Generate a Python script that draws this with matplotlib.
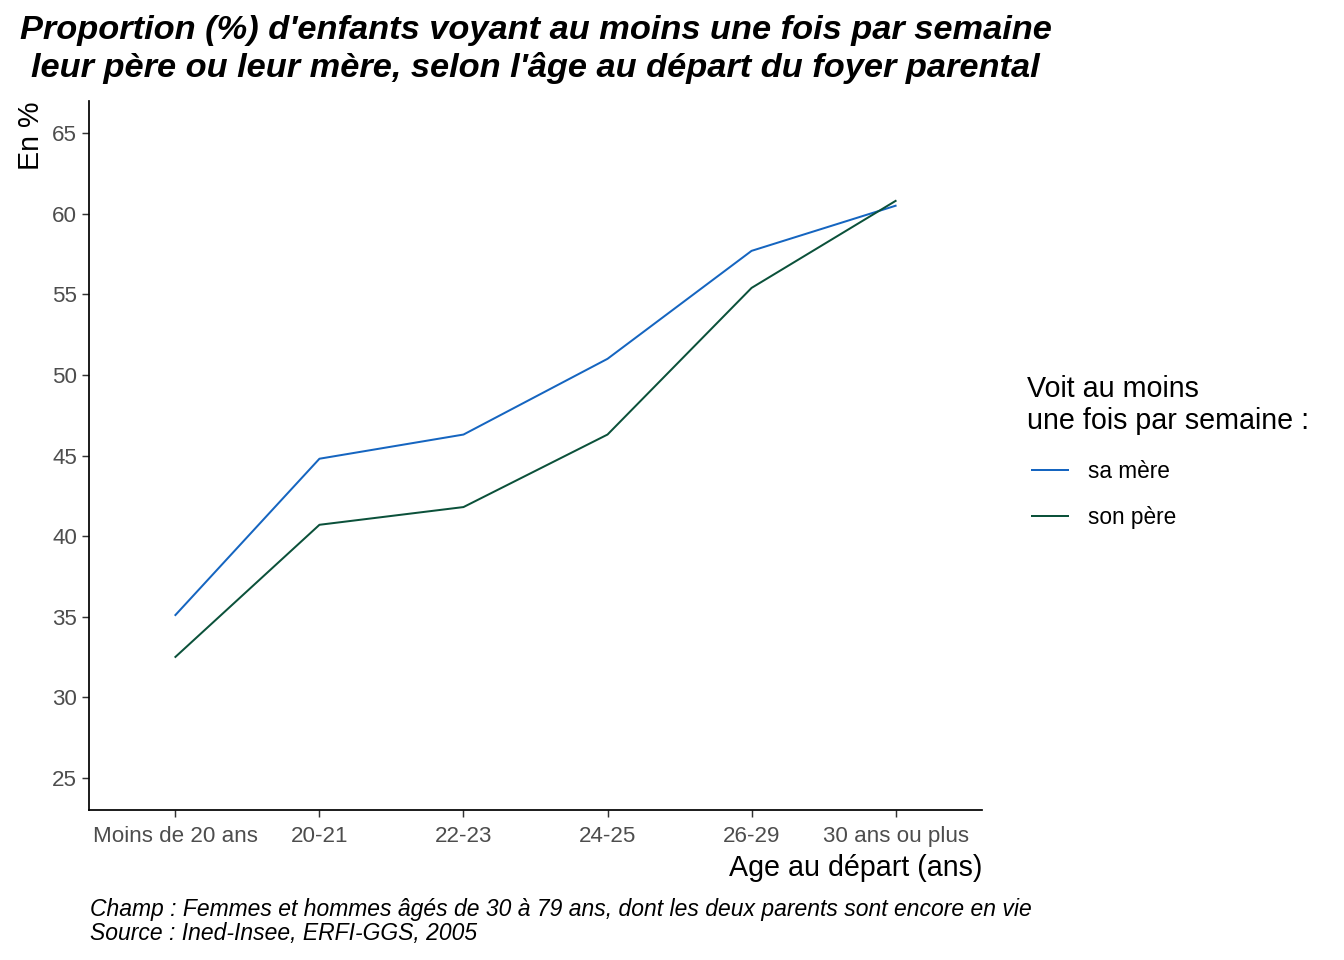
import matplotlib
matplotlib.use("Agg")
import matplotlib.pyplot as plt

plt.rcParams['font.family'] = ['Liberation Sans', 'DejaVu Sans']

categories = ["Moins de 20 ans", "20-21", "22-23", "24-25", "26-29", "30 ans ou plus"]
mere = [35.1, 44.8, 46.3, 51.0, 57.7, 60.5]
pere = [32.5, 40.7, 41.8, 46.3, 55.4, 60.8]
yticks = [25, 30, 35, 40, 45, 50, 55, 60, 65]

fig = plt.figure(figsize=(14, 10), dpi=96)
ax = fig.add_axes([89/1344, 1-810/960, (982-89)/1344, (810-101)/960])

x = list(range(len(categories)))
l1, = ax.plot(x, mere, color="#1565c0", lw=1.5, label="sa mère")
l2, = ax.plot(x, pere, color="#0b513a", lw=1.5, label="son père")

ax.set_xlim(-0.6, len(categories) - 1 + 0.6)
ax.set_ylim(23, 67)
ax.set_xticks(x)
ax.set_xticklabels(categories)
ax.set_yticks(yticks)
for s in ["top", "right"]:
    ax.spines[s].set_visible(False)
for s in ["left", "bottom"]:
    ax.spines[s].set_linewidth(1.3)
ax.tick_params(axis="both", length=5, width=1.1, color="#333333", labelcolor="#4d4d4d",
               labelsize=16.8, pad=4)
ax.tick_params(axis="x", pad=7)

ax.set_xlabel("Age au départ (ans)", fontsize=21.5, loc="right", labelpad=5)
ax.set_ylabel("En %", fontsize=21.5, loc="top")
ax.yaxis.set_label_coords(-0.049, 1.0)

fig.text((89+982)/2/1344, 1-15/960, "Proportion (%) d'enfants voyant au moins une fois par semaine\nleur père ou leur mère, selon l'âge au départ du foyer parental",
         ha="center", va="top", fontsize=25.8, fontweight="bold", fontstyle="italic", linespacing=1.22)

fig.text(90/1344, 1-898/960, "Champ : Femmes et hommes âgés de 30 à 79 ans, dont les deux parents sont encore en vie\nSource : Ined-Insee, ERFI-GGS, 2005",
         ha="left", va="top", fontsize=17.2, fontstyle="italic", linespacing=1.05)

fig.text(1027/1344, 1-375/960, "Voit au moins\nune fois par semaine :", ha="left", va="top",
         fontsize=21.5, linespacing=1.2)

leg = fig.legend(handles=[l1, l2], loc="upper left", bbox_to_anchor=(1032/1344, 1-460/960),
                 frameon=False, borderpad=0, borderaxespad=0,
                 fontsize=17, handlelength=1.6, handletextpad=0.85,
                 labelspacing=1.0)

fig.savefig("out.png", dpi=96)
